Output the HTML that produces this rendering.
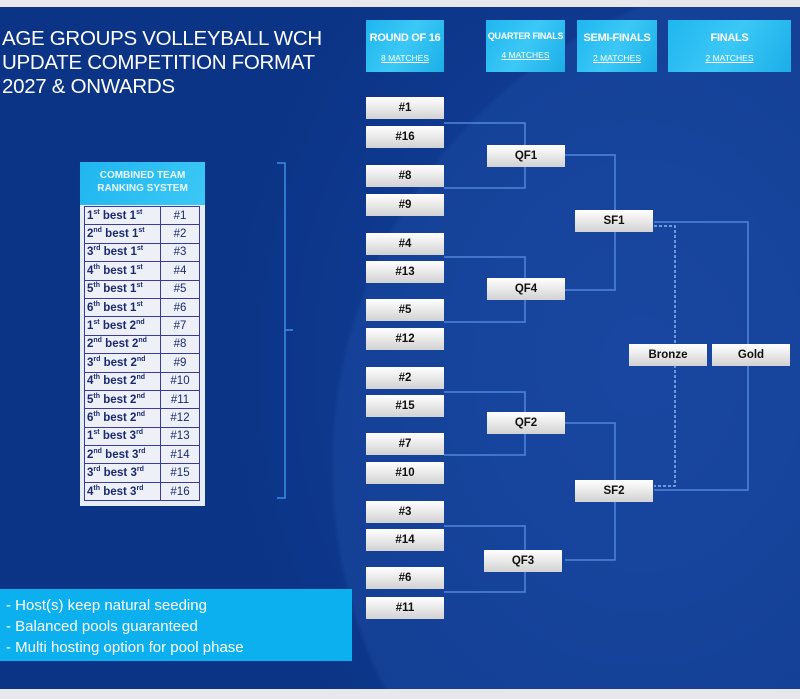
<!DOCTYPE html>
<html><head><meta charset="utf-8"><style>
*{margin:0;padding:0;box-sizing:border-box}
html,body{width:800px;height:699px;overflow:hidden}
body{position:relative;background:#e8e8ec;font-family:"Liberation Sans",sans-serif}
#bg{position:absolute;left:0;top:7px;width:800px;height:682px;background:radial-gradient(circle 500px at 830px 460px,rgba(40,90,180,0.25) 99%,rgba(0,0,0,0) 100%),radial-gradient(ellipse 420px 520px at 640px 360px,#14409a 0%,#0f3a90 60%,#0b3486 100%)}
.t{position:absolute;left:2px;top:27px;color:#fff;font-size:20.5px;line-height:24px;letter-spacing:-0.3px;white-space:nowrap}
.h{position:absolute;background:linear-gradient(120deg,#1fb6ef,#3cc8f6 50%,#1aaee8);color:#fff;text-align:center;font-weight:bold;white-space:nowrap;overflow:hidden}
.h b{display:block;font-size:11px;margin-top:12px;letter-spacing:-0.3px}
.h u{display:block;font-size:8.5px;font-weight:normal;margin-top:9px}
.bx{position:absolute;width:78px;height:22px;background:linear-gradient(180deg,#fff,#e4e4e4 60%,#d2d2d2);color:#111;font-weight:bold;font-size:11.5px;text-align:center;line-height:22px}
svg{position:absolute;left:0;top:0}
#tb{position:absolute;left:80px;top:162px;width:125px;height:344px;background:#e6ecf6}
#tb .hd{height:43px;background:linear-gradient(120deg,#1fb6ef,#3cc8f6);color:#eaf8ff;font-size:10px;font-weight:bold;text-align:center;line-height:13px;padding-top:7px}
table{position:absolute;left:4px;top:44px;border-collapse:collapse;width:116px}
td{border:1px solid #3a3aa0;height:18.4px;font-size:11.5px;color:#1a2a70;font-weight:bold;padding:0 2px;background:#eef0f8;white-space:nowrap}
td:last-child{text-align:center;font-weight:normal;width:39px}
sup{font-size:7px;line-height:0}
#info{position:absolute;left:0;top:589px;width:352px;height:72px;background:#0cb0ee;color:#fff;font-size:15px;line-height:21px;padding:6px 0 0 6px}
</style></head><body>
<div id="bg"></div>
<div class="t">AGE GROUPS VOLLEYBALL WCH<br>UPDATE COMPETITION FORMAT<br>2027 &amp; ONWARDS</div>
<div class="h" style="left:366px;top:20px;width:78px;height:52px"><b>ROUND OF 16</b><u>8 MATCHES</u></div>
<div class="h" style="left:486px;top:20px;width:79px;height:52px"><b style="font-size:9px;margin-top:11px">QUARTER FINALS</b><u>4 MATCHES</u></div>
<div class="h" style="left:577px;top:20px;width:80px;height:52px"><b>SEMI-FINALS</b><u>2 MATCHES</u></div>
<div class="h" style="left:668px;top:20px;width:123px;height:52px"><b>FINALS</b><u>2 MATCHES</u></div>
<svg width="800" height="699">
<g fill="none" stroke="#4f86da" stroke-width="1.5">
<path d="M444 123H525V188H444M444 257H525V322H444M444 392H525V455H444M444 526H525V592H444"/>
<path d="M565 155H615V290H565M565 423H615V560H565"/>
<path d="M654 222H748V490H654"/>
<path d="M654 226H675V486H654" stroke="#8ab4ee" stroke-dasharray="3 2"/>
<path d="M277 163H285V498H277M285 330H293" stroke="#3a8ee8"/>
</g></svg>
<div class="bx" style="left:366px;top:97px">#1</div>
<div class="bx" style="left:366px;top:126px">#16</div>
<div class="bx" style="left:366px;top:165px">#8</div>
<div class="bx" style="left:366px;top:194px">#9</div>
<div class="bx" style="left:366px;top:233px">#4</div>
<div class="bx" style="left:366px;top:261px">#13</div>
<div class="bx" style="left:366px;top:299px">#5</div>
<div class="bx" style="left:366px;top:328px">#12</div>
<div class="bx" style="left:366px;top:367px">#2</div>
<div class="bx" style="left:366px;top:395px">#15</div>
<div class="bx" style="left:366px;top:433px">#7</div>
<div class="bx" style="left:366px;top:462px">#10</div>
<div class="bx" style="left:366px;top:501px">#3</div>
<div class="bx" style="left:366px;top:529px">#14</div>
<div class="bx" style="left:366px;top:567px">#6</div>
<div class="bx" style="left:366px;top:597px">#11</div>
<div class="bx" style="left:487px;top:145px">QF1</div>
<div class="bx" style="left:487px;top:278px">QF4</div>
<div class="bx" style="left:487px;top:412px">QF2</div>
<div class="bx" style="left:484px;top:550px">QF3</div>
<div class="bx" style="left:575px;top:210px">SF1</div>
<div class="bx" style="left:575px;top:480px">SF2</div>
<div class="bx" style="left:629px;top:344px">Bronze</div>
<div class="bx" style="left:712px;top:344px">Gold</div>
<div id="tb"><div class="hd">COMBINED TEAM<br>RANKING SYSTEM</div>
<table>
<tr><td>1<sup>st</sup> best 1<sup>st</sup></td><td>#1</td></tr>
<tr><td>2<sup>nd</sup> best 1<sup>st</sup></td><td>#2</td></tr>
<tr><td>3<sup>rd</sup> best 1<sup>st</sup></td><td>#3</td></tr>
<tr><td>4<sup>th</sup> best 1<sup>st</sup></td><td>#4</td></tr>
<tr><td>5<sup>th</sup> best 1<sup>st</sup></td><td>#5</td></tr>
<tr><td>6<sup>th</sup> best 1<sup>st</sup></td><td>#6</td></tr>
<tr><td>1<sup>st</sup> best 2<sup>nd</sup></td><td>#7</td></tr>
<tr><td>2<sup>nd</sup> best 2<sup>nd</sup></td><td>#8</td></tr>
<tr><td>3<sup>rd</sup> best 2<sup>nd</sup></td><td>#9</td></tr>
<tr><td>4<sup>th</sup> best 2<sup>nd</sup></td><td>#10</td></tr>
<tr><td>5<sup>th</sup> best 2<sup>nd</sup></td><td>#11</td></tr>
<tr><td>6<sup>th</sup> best 2<sup>nd</sup></td><td>#12</td></tr>
<tr><td>1<sup>st</sup> best 3<sup>rd</sup></td><td>#13</td></tr>
<tr><td>2<sup>nd</sup> best 3<sup>rd</sup></td><td>#14</td></tr>
<tr><td>3<sup>rd</sup> best 3<sup>rd</sup></td><td>#15</td></tr>
<tr><td>4<sup>th</sup> best 3<sup>rd</sup></td><td>#16</td></tr>
</table></div>
<div id="info">- Host(s) keep natural seeding<br>- Balanced pools guaranteed<br>- Multi hosting option for pool phase</div>
</body></html>
